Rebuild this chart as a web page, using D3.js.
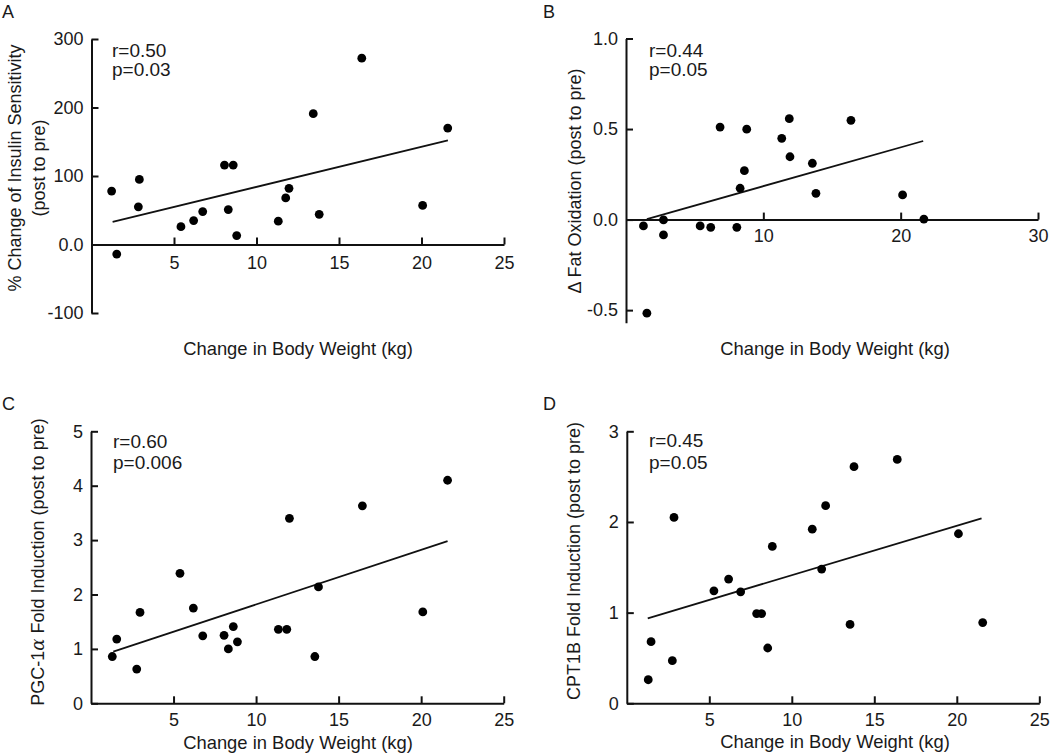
<!DOCTYPE html>
<html>
<head>
<meta charset="utf-8">
<script src="https://cdn.jsdelivr.net/npm/d3@7"></script>
<style>
  html, body { margin: 0; padding: 0; background: #fff; }
  svg { display: block; }
  text { font-family: Arial, "Liberation Sans", Helvetica, sans-serif; fill: #1a1a1a; }
</style>
</head>
<body>
<svg id="chart" width="1050" height="754"></svg>
<script>
// ---------- Data ----------
// Panel A: % change of insulin sensitivity
const xA = [1.22, 1.53, 2.84, 2.90, 5.42, 6.19, 6.74, 8.06, 8.29, 8.59, 8.80, 11.32, 11.77, 11.97, 13.44, 13.80, 16.38, 20.07, 21.59];
const yA = [78, -14, 55, 95, 26, 35, 48, 116, 51, 116, 13, 34, 68, 82, 191, 44, 272, 57, 170];
const fitA = [[1.28, 33], [21.6, 152]];
const yTicksA = [-100, 0, 100, 200, 300];
const yTickLabelsA = ["-100", "0.0", "100", "200", "300"];
const xTicksA = [5, 10, 15, 20, 25];

// Panel B: delta fat oxidation
const xB = [1.27, 1.52, 2.73, 2.73, 5.40, 6.17, 6.85, 8.07, 8.31, 8.62, 8.79, 11.34, 11.89, 11.94, 13.57, 13.83, 16.38, 20.14, 21.69];
const yB = [-0.035, -0.517, -0.002, -0.085, -0.035, -0.043, 0.511, -0.043, 0.173, 0.27, 0.499, 0.449, 0.557, 0.347, 0.311, 0.145, 0.548, 0.136, 0.003];
const fitB = [[1.52, 0.003], [21.64, 0.434]];
const yTicksB = [-0.5, 0.0, 0.5, 1.0];
const yTickLabelsB = ["-0.5", "0.0", "0.5", "1.0"];
const xTicksB = [10, 20, 30];

// Panel C: PGC-1alpha fold induction
const xC = [1.29, 1.56, 2.77, 2.97, 5.39, 6.20, 6.77, 8.06, 8.32, 8.62, 8.87, 11.35, 11.86, 12.02, 13.56, 13.78, 16.44, 20.10, 21.60];
const yC = [0.86, 1.18, 0.63, 1.67, 2.39, 1.75, 1.24, 1.25, 1.00, 1.41, 1.13, 1.36, 1.36, 3.40, 0.86, 2.14, 3.63, 1.68, 4.10];
const fitC = [[1.35, 0.95], [21.6, 2.98]];
const yTicksC = [0, 1, 2, 3, 4, 5];
const yTickLabelsC = ["0", "1", "2", "3", "4", "5"];
const xTicksC = [5, 10, 15, 20, 25];

// Panel D: CPT1B fold induction
const xD = [1.30, 1.47, 2.76, 2.86, 5.28, 6.17, 6.90, 7.87, 8.17, 8.54, 8.82, 11.24, 11.81, 12.05, 13.53, 13.77, 16.39, 20.10, 21.57];
const yD = [0.26, 0.68, 0.47, 2.05, 1.24, 1.37, 1.23, 0.99, 0.99, 0.61, 1.73, 1.92, 1.48, 2.18, 0.87, 2.61, 2.69, 1.87, 0.89];
const fitD = [[1.27, 0.937], [21.5, 2.04]];
const yTicksD = [0, 1, 2, 3];
const yTickLabelsD = ["0", "1", "2", "3"];
const xTicksD = [5, 10, 15, 20, 25];

const xTitle = "Change in Body Weight (kg)";

// ---------- Layout ----------
const panels = [
  { letter: "A", xs: xA, ys: yA, fit: fitA, xDom: [0, 25], xRange: [91.5, 504], yDom: [-100, 300], yRange: [313, 39],
    xTicks: xTicksA, yTicks: yTicksA, yLabels: yTickLabelsA, xAxisAt: 0,
    stats: ["r=0.50", "p=0.03"], statX: 112, statY: [57, 76],
    letterPos: [2, 18], xTitlePos: [298, 355], xPad: 12,
    yTitle: [["% Change of Insulin Sensitivity", 21], ["(post to pre)", 45]], yTitleY: 168 },
  { letter: "B", xs: xB, ys: yB, fit: fitB, xDom: [0, 30], xRange: [626, 1038], yDom: [-0.57, 1.0], yRange: [322.8, 38.5],
    xTicks: xTicksB, yTicks: yTicksB, yLabels: yTickLabelsB, xAxisAt: 0,
    stats: ["r=0.44", "p=0.05"], statX: 649, statY: [57, 76],
    letterPos: [543, 18], xTitlePos: [835, 355], xPad: 10,
    yTitle: [["\u0394 Fat Oxidation (post to pre)", 581]], yTitleY: 181 },
  { letter: "C", xs: xC, ys: yC, fit: fitC, xDom: [0, 25], xRange: [91, 503.7], yDom: [0, 5], yRange: [703.3, 431.3],
    xTicks: xTicksC, yTicks: yTicksC, yLabels: yTickLabelsC, xAxisAt: 0,
    stats: ["r=0.60", "p=0.006"], statX: 113, statY: [448, 469],
    letterPos: [2, 410], xTitlePos: [298, 749], xPad: 10,
    yTitle: [["PGC-1\u03B1 Fold Induction (post to pre)", 44]], yTitleY: 562, alpha: true },
  { letter: "D", xs: xD, ys: yD, fit: fitD, xDom: [0, 25], xRange: [626.8, 1039.3], yDom: [0, 3], yRange: [703.3, 431.3],
    xTicks: xTicksD, yTicks: yTicksD, yLabels: yTickLabelsD, xAxisAt: 0,
    stats: ["r=0.45", "p=0.05"], statX: 649, statY: [447, 469],
    letterPos: [543, 410], xTitlePos: [835, 748], xPad: 10,
    yTitle: [["CPT1B Fold Induction (post to pre)", 580]], yTitleY: 561 }
];

const svg = d3.select("#chart");
const FS = 18;

panels.forEach(p => {
  const g = svg.append("g");
  const x = d3.scaleLinear().domain(p.xDom).range(p.xRange);
  const y = d3.scaleLinear().domain(p.yDom).range(p.yRange);

  // x axis (ticks pointing up/inward)
  const xAxis = d3.axisBottom(x).tickValues(p.xTicks).tickSize(-7).tickSizeOuter(0).tickPadding(p.xPad).tickFormat(d3.format("d"));
  const gx = g.append("g").attr("transform", `translate(0,${y(p.xAxisAt)})`).call(xAxis);
  // y axis (ticks pointing right/inward)
  const yAxis = d3.axisLeft(y).tickValues(p.yTicks).tickSize(-7).tickSizeOuter(0).tickPadding(8)
    .tickFormat((d, i) => p.yLabels[i]);
  const gy = g.append("g").attr("transform", `translate(${x(p.xDom[0])},0)`).call(yAxis);

  [gx, gy].forEach(a => {
    a.select(".domain").attr("stroke", "#111").attr("stroke-width", 2);
    a.selectAll(".tick line").attr("stroke", "#111").attr("stroke-width", 2);
    a.selectAll(".tick text").attr("font-size", FS).attr("fill", "#1a1a1a")
      .attr("font-family", "Arial, 'Liberation Sans', Helvetica, sans-serif");
  });

  // fit line
  g.append("path")
    .datum(p.fit)
    .attr("fill", "none").attr("stroke", "#111").attr("stroke-width", 1.8)
    .attr("d", d3.line().x(d => x(d[0])).y(d => y(d[1])));

  // points
  g.selectAll("circle.pt").data(p.xs.map((v, i) => [v, p.ys[i]])).enter()
    .append("circle").attr("class", "pt")
    .attr("cx", d => x(d[0])).attr("cy", d => y(d[1])).attr("r", 4.4).attr("fill", "#000");

  // stats text
  p.stats.forEach((s, i) => {
    g.append("text").attr("x", p.statX).attr("y", p.statY[i]).attr("font-size", 19).text(s);
  });

  // panel letter
  g.append("text").attr("x", p.letterPos[0]).attr("y", p.letterPos[1]).attr("font-size", 18).text(p.letter);

  // x title
  g.append("text").attr("x", p.xTitlePos[0]).attr("y", p.xTitlePos[1]).attr("font-size", 18.4)
    .attr("text-anchor", "middle").text(xTitle);

  // y title(s)
  p.yTitle.forEach(([txt, bx]) => {
    const t = g.append("text")
      .attr("transform", `translate(${bx},${p.yTitleY}) rotate(-90)`)
      .attr("text-anchor", "middle").attr("font-size", FS);
    if (p.alpha) {
      t.append("tspan").text("PGC-1");
      t.append("tspan").attr("font-family", "'DejaVu Serif', serif").attr("font-style", "italic").text("\u03B1");
      t.append("tspan").text(" Fold Induction (post to pre)");
    } else {
      t.text(txt);
    }
  });
});
</script>
</body>
</html>
